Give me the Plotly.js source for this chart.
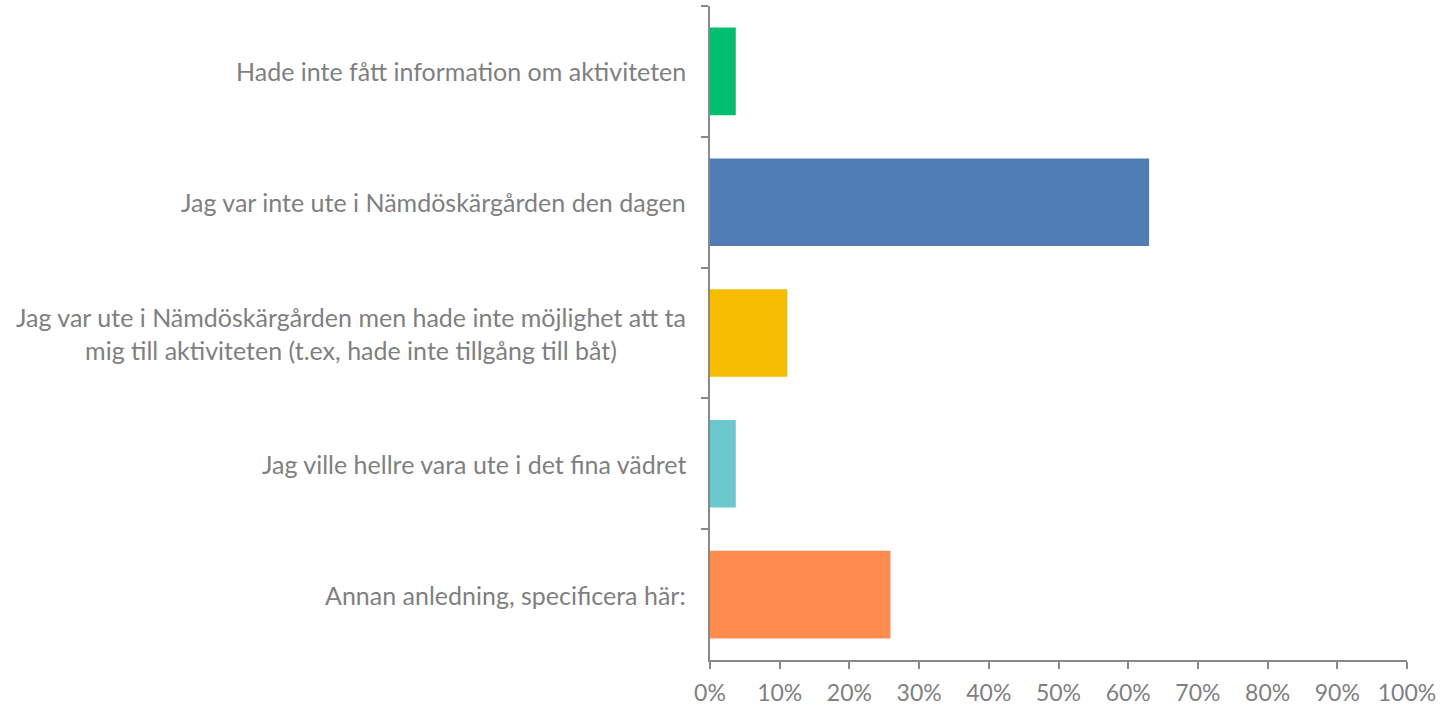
<!DOCTYPE html>
<html>
<head>
<meta charset="utf-8">
<script src="https://cdn.plot.ly/plotly-3.0.1.min.js"></script>
<style>html,body{margin:0;padding:0;background:#fff;}#chart{width:1447px;height:705px;}</style>
</head>
<body>
<div id="chart"></div>
<script>
const categories = [
  "Hade inte fått information om aktiviteten",
  "Jag var inte ute i Nämdöskärgården den dagen",
  "Jag var ute i Nämdöskärgården men hade inte möjlighet att ta<br>mig till aktiviteten (t.ex, hade inte tillgång till båt)",
  "Jag ville hellre vara ute i det fina vädret",
  "Annan anledning, specificera här:"
];
const values = [0.037, 0.630, 0.111, 0.037, 0.259];
const colors = ["#00BF6F", "#507CB6", "#F7BD00", "#6BC8CD", "#FF8B4F"];
const tickVals = [0, 0.1, 0.2, 0.3, 0.4, 0.5, 0.6, 0.7, 0.8, 0.9, 1.0];
const tickLabels = ["0%", "10%", "20%", "30%", "40%", "50%", "60%", "70%", "80%", "90%", "100%"];

const FONT = "Lato, 'Open Sans', sans-serif";
const GREY = "#7f7f7f";

const trace = {
  type: "bar",
  orientation: "h",
  x: values,
  y: categories,
  marker: { color: colors },
  width: 0.67,
  hoverinfo: "x+y"
};

const annotations = categories.map(c => ({
  x: 0, xref: "paper", xanchor: "right", xshift: -22,
  y: c, yref: "y", yanchor: "middle",
  text: c, showarrow: false, align: "center",
  font: { family: FONT, size: 25, color: GREY }
}));

const layout = {
  width: 1447, height: 705,
  margin: { l: 710, r: 40, t: 6, b: 45 },
  paper_bgcolor: "#fff", plot_bgcolor: "#fff",
  showlegend: false,
  xaxis: {
    range: [0, 1], tickvals: tickVals, ticktext: tickLabels,
    showgrid: false, zeroline: false,
    showline: true, linecolor: "#898989", linewidth: 2,
    ticks: "outside", ticklen: 7, tickwidth: 2, tickcolor: "#898989",
    tickfont: { family: FONT, size: 23, color: GREY },
    ticklabelstandoff: 4,
    fixedrange: true
  },
  yaxis: {
    type: "category", categoryorder: "array", categoryarray: categories,
    autorange: "reversed",
    showticklabels: false,
    showgrid: false, zeroline: false,
    showline: true, linecolor: "#898989", linewidth: 2,
    ticks: "outside", tickson: "boundaries", ticklen: 7, tickwidth: 2, tickcolor: "#898989",
    fixedrange: true
  },
  annotations: annotations
};

Plotly.newPlot("chart", [trace], layout, { displayModeBar: false, responsive: false });
</script>
</body>
</html>
